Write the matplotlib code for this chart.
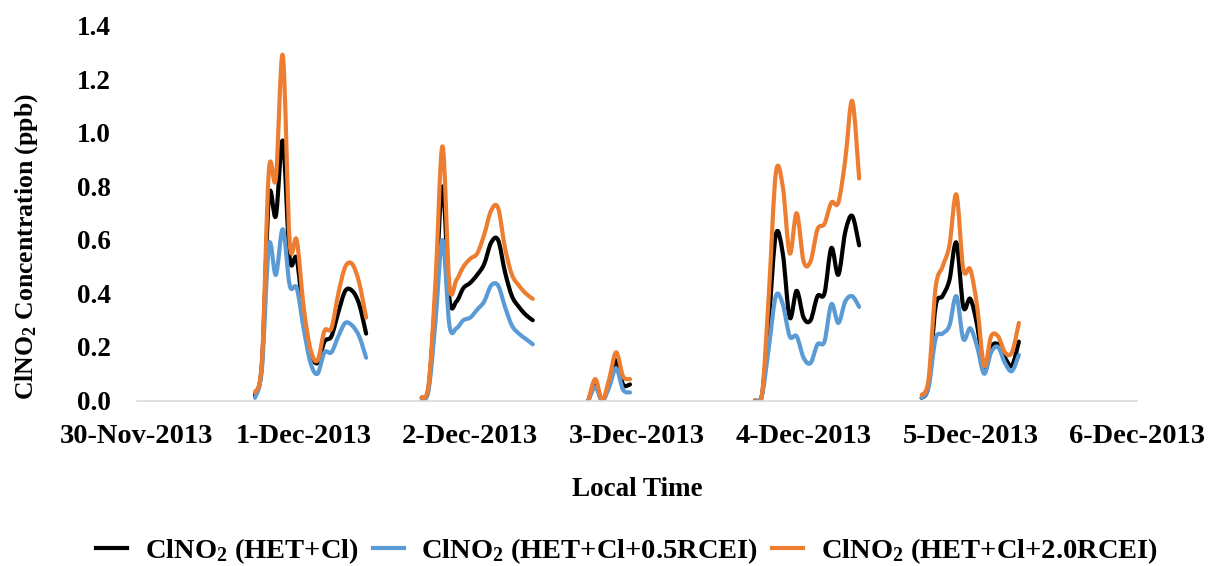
import numpy as np
import pandas as pd
import matplotlib
matplotlib.use("Agg")
import matplotlib.pyplot as plt
import matplotlib.dates as mdates
from matplotlib.path import Path
from matplotlib.patches import PathPatch
from matplotlib.lines import Line2D

# hourly model output, one list per night (each night starts 17:00 local)
night_starts = ["2013-11-30 17:00", "2013-12-01 17:00", "2013-12-02 17:00",
                "2013-12-03 17:00", "2013-12-04 17:00"]

het_cl = [
    [0.02, 0.14, 0.76, 0.69, 0.97, 0.53, 0.53, 0.31, 0.18, 0.14, 0.22, 0.24, 0.33, 0.41, 0.41, 0.36, 0.25],
    [0.01, 0.05, 0.40, 0.80, 0.38, 0.37, 0.42, 0.44, 0.47, 0.51, 0.59, 0.60, 0.48, 0.39, 0.35, 0.32, 0.30],
    [0.00, 0.06, 0.00, 0.06, 0.15, 0.06, 0.06],
    [0.00, 0.02, 0.30, 0.62, 0.55, 0.31, 0.41, 0.31, 0.30, 0.39, 0.40, 0.57, 0.47, 0.63, 0.69, 0.58],
    [0.01, 0.06, 0.35, 0.39, 0.45, 0.59, 0.35, 0.38, 0.28, 0.12, 0.20, 0.21, 0.16, 0.13, 0.22],
]
het_cl_05 = [
    [0.01, 0.12, 0.58, 0.47, 0.64, 0.43, 0.42, 0.27, 0.14, 0.10, 0.18, 0.18, 0.24, 0.29, 0.28, 0.24, 0.16],
    [0.00, 0.04, 0.30, 0.60, 0.28, 0.27, 0.30, 0.31, 0.34, 0.37, 0.43, 0.43, 0.35, 0.28, 0.25, 0.23, 0.21],
    [0.00, 0.05, 0.00, 0.05, 0.12, 0.04, 0.03],
    [0.00, 0.02, 0.20, 0.39, 0.36, 0.24, 0.24, 0.16, 0.14, 0.21, 0.22, 0.36, 0.29, 0.37, 0.39, 0.35],
    [0.01, 0.05, 0.23, 0.25, 0.28, 0.39, 0.23, 0.27, 0.20, 0.10, 0.18, 0.20, 0.14, 0.11, 0.17],
]
het_cl_20 = [
    [0.03, 0.15, 0.86, 0.83, 1.29, 0.59, 0.60, 0.35, 0.19, 0.15, 0.26, 0.27, 0.40, 0.50, 0.51, 0.44, 0.31],
    [0.01, 0.06, 0.45, 0.95, 0.43, 0.45, 0.50, 0.53, 0.55, 0.62, 0.71, 0.72, 0.57, 0.47, 0.43, 0.40, 0.38],
    [0.00, 0.08, 0.00, 0.08, 0.18, 0.09, 0.08],
    [0.00, 0.02, 0.40, 0.85, 0.80, 0.55, 0.70, 0.52, 0.52, 0.64, 0.66, 0.74, 0.74, 0.90, 1.12, 0.83],
    [0.02, 0.08, 0.42, 0.50, 0.58, 0.77, 0.49, 0.49, 0.35, 0.13, 0.24, 0.24, 0.18, 0.18, 0.29],
]

labels = [r"ClNO$_2$ (HET+Cl)", r"ClNO$_2$ (HET+Cl+0.5RCEI)", r"ClNO$_2$ (HET+Cl+2.0RCEI)"]
colors = ["#000000", "#5b9bd5", "#ed7d31"]
day_ticks = ["30-Nov-2013", "1-Dec-2013", "2-Dec-2013", "3-Dec-2013",
             "4-Dec-2013", "5-Dec-2013", "6-Dec-2013"]


def smooth_path(x, y):
    # excel style "smoothed line": cubic bezier through every point
    x = np.asarray(x, float)
    y = np.asarray(y, float)
    n = len(x)
    verts = [(x[0], y[0])]
    codes = [Path.MOVETO]
    for i in range(n - 1):
        x0, y0 = (x[i - 1], y[i - 1]) if i > 0 else (x[i], y[i])
        x3, y3 = (x[i + 2], y[i + 2]) if i + 2 < n else (x[i + 1], y[i + 1])
        c1 = (x[i] + (x[i + 1] - x0) / 6, y[i] + (y[i + 1] - y0) / 6)
        c2 = (x[i + 1] - (x3 - x[i]) / 6, y[i + 1] - (y3 - y[i]) / 6)
        verts += [c1, c2, (x[i + 1], y[i + 1])]
        codes += [Path.CURVE4] * 3
    return Path(verts, codes)


plt.rcParams["font.family"] = "Liberation Serif"
plt.rcParams["font.weight"] = "bold"
plt.rcParams["mathtext.fontset"] = "custom"
plt.rcParams["mathtext.rm"] = "Liberation Serif:bold"
plt.rcParams["mathtext.it"] = "Liberation Serif:bold"
plt.rcParams["mathtext.bf"] = "Liberation Serif:bold"

fig = plt.figure(figsize=(12.1, 5.66), dpi=100)
ax = fig.add_axes([0.1132, 0.2924, 0.8264, 0.6617])

for series, col in zip([het_cl, het_cl_05, het_cl_20], colors):
    for start, vals in zip(night_starts, series):
        t = mdates.date2num(pd.date_range(start, periods=len(vals), freq="h"))
        ax.add_patch(PathPatch(smooth_path(t, vals), fill=False, edgecolor=col,
                               lw=3, capstyle="round", joinstyle="round"))

tick_dates = mdates.date2num(pd.date_range("2013-11-30", periods=len(day_ticks), freq="D"))
ax.set_xlim(tick_dates[0], tick_dates[-1])
ax.set_xticks(tick_dates)
ax.set_xticklabels(day_ticks)
ax.set_ylim(0, 1.4)
ax.set_yticks(np.arange(0, 1.41, 0.2))
ax.yaxis.set_major_formatter(matplotlib.ticker.FormatStrFormatter("%.1f"))
ax.tick_params(axis="both", length=0, labelsize=19.5)
ax.tick_params(axis="x", pad=17, labelsize=20.5)
ax.tick_params(axis="y", pad=19)

for s in ["top", "right", "left"]:
    ax.spines[s].set_visible(False)
ax.spines["bottom"].set_color("#d9d9d9")
ax.spines["bottom"].set_linewidth(1.2)

ax.set_xlabel("Local Time", fontsize=19.5, fontweight="bold", labelpad=20)
ax.set_ylabel(r"ClNO$_2$ Concentration (ppb)", fontsize=18.5, fontweight="bold")
ax.yaxis.set_label_coords(-0.097, 0.41)

handles = [Line2D([], [], color=c, lw=3) for c in colors]
fig.legend(handles, labels, loc="center", bbox_to_anchor=(0.518, 0.026), ncol=3,
           frameon=False, fontsize=20.5, handlelength=1.1, columnspacing=0.5,
           handletextpad=0.6, borderaxespad=0)

fig.savefig("out.png", dpi=100)
